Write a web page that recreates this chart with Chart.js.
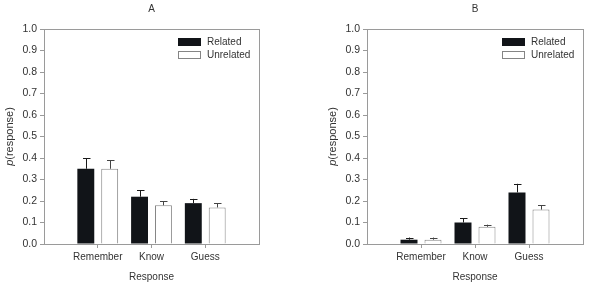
<!DOCTYPE html>
<html>
<head>
<meta charset="utf-8">
<script src="https://cdn.jsdelivr.net/npm/chart.js@4.4.0/dist/chart.umd.min.js"></script>
<style>
  html, body { margin: 0; padding: 0; background: #fff; }
  #wrap { position: relative; width: 600px; height: 285px; }
  canvas { position: absolute; top: 0; }
</style>
</head>
<body>
<div id="wrap">
  <canvas id="chartA" width="300" height="285" style="left:0"></canvas>
  <canvas id="chartB" width="300" height="285" style="left:300px"></canvas>
</div>
<script>
const categories = ['Remember', 'Know', 'Guess'];
const seriesNames = ['Related', 'Unrelated'];
const yTicks = [0, 0.1, 0.2, 0.3, 0.4, 0.5, 0.6, 0.7, 0.8, 0.9, 1.0];

// panel A
const relatedA = [0.35, 0.22, 0.19];
const unrelatedA = [0.35, 0.18, 0.17];
const relatedErrA = [0.05, 0.03, 0.02];
const unrelatedErrA = [0.04, 0.02, 0.02];

// panel B
const relatedB = [0.02, 0.10, 0.24];
const unrelatedB = [0.02, 0.08, 0.16];
const relatedErrB = [0.01, 0.02, 0.04];
const unrelatedErrB = [0.01, 0.01, 0.02];

const FONT = '"Liberation Sans", Arial, sans-serif';
const FRAME = '#9a9a9a';
const TEXT = '#333';

const decorPlugin = {
  id: 'decor',
  afterDatasetsDraw(chart, args, opts) {
    const ctx = chart.ctx;
    const area = chart.chartArea;
    const y = chart.scales.y;

    // error bars (upward only)
    chart.data.datasets.forEach((ds, i) => {
      const meta = chart.getDatasetMeta(i);
      ctx.save();
      ctx.strokeStyle = i === 0 ? '#1a1a1a' : '#444';
      ctx.lineWidth = 1;
      meta.data.forEach((bar, j) => {
        const v = ds.data[j];
        if (v == null) return;
        const top = y.getPixelForValue(v + ds.err[j]);
        const x = Math.round(bar.x) + 0.5;
        ctx.beginPath();
        ctx.moveTo(x, y.getPixelForValue(v));
        ctx.lineTo(x, top);
        ctx.moveTo(x - 3.5, Math.round(top) + 0.5);
        ctx.lineTo(x + 4, Math.round(top) + 0.5);
        ctx.stroke();
      });
      ctx.restore();
    });

    // frame
    ctx.save();
    ctx.strokeStyle = FRAME;
    ctx.lineWidth = 1;
    ctx.strokeRect(Math.round(area.left) + 0.5, Math.round(area.top) + 0.5,
      Math.round(area.right - area.left), Math.round(area.bottom - area.top));
    ctx.restore();

    // legend
    ctx.save();
    ctx.font = '10px ' + FONT;
    ctx.textBaseline = 'middle';
    chart.data.datasets.forEach((ds, i) => {
      const bx = area.right - 81;
      const by = area.top + 9 + i * 13;
      ctx.fillStyle = ds.backgroundColor;
      ctx.fillRect(bx, by, 23, 8);
      if (ds.borderWidth) {
        ctx.strokeStyle = ds.borderColor;
        ctx.strokeRect(bx + 0.5, by + 0.5, 22, 7);
      }
      ctx.fillStyle = TEXT;
      ctx.fillText(ds.label, bx + 29, by + 4.5);
    });
    ctx.restore();

    // panel title
    ctx.save();
    ctx.font = '10px ' + FONT;
    ctx.fillStyle = TEXT;
    ctx.textAlign = 'center';
    ctx.textBaseline = 'middle';
    ctx.fillText(opts.title, (area.left + area.right) / 2, 9);
    ctx.restore();

    // y title: italic p + (response)
    ctx.save();
    ctx.translate(area.left - 34, (area.top + area.bottom) / 2);
    ctx.rotate(-Math.PI / 2);
    ctx.fillStyle = TEXT;
    ctx.textBaseline = 'middle';
    ctx.font = 'italic 11px ' + FONT;
    const pW = ctx.measureText('p').width;
    ctx.font = '11px ' + FONT;
    const restW = ctx.measureText('(response)').width;
    const x0 = -(pW + restW) / 2;
    ctx.font = 'italic 11px ' + FONT;
    ctx.fillText('p', x0, 0);
    ctx.font = '11px ' + FONT;
    ctx.fillText('(response)', x0 + pW, 0);
    ctx.restore();
  }
};

function makePanel(id, title, related, unrelated, relErr, unrelErr, leftWidth, rightPad) {
  const labels = ['', ...categories, ''];
  const pad = arr => [null, ...arr, null];
  return new Chart(document.getElementById(id), {
    type: 'bar',
    data: {
      labels: labels,
      datasets: [
        {
          label: seriesNames[0],
          data: pad(related),
          err: pad(relErr),
          backgroundColor: '#111418',
          borderWidth: 0
        },
        {
          label: seriesNames[1],
          data: pad(unrelated),
          err: pad(unrelErr),
          backgroundColor: '#ffffff',
          borderColor: '#858585',
          borderWidth: 1
        }
      ]
    },
    options: {
      responsive: false,
      animation: false,
      categoryPercentage: 0.889,
      barPercentage: 0.708,
      layout: { padding: { left: 0, top: 29, right: rightPad, bottom: 0 } },
      plugins: {
        legend: { display: false },
        tooltip: { enabled: false },
        decor: { title: title }
      },
      scales: {
        x: {
          offset: false,
          grid: {
            offset: false,
            drawOnChartArea: false,
            tickLength: 4,
            color: c => (c.index === 0 || c.index === labels.length - 1) ? 'rgba(0,0,0,0)' : FRAME
          },
          border: { color: FRAME },
          ticks: {
            autoSkip: false,
            maxRotation: 0,
            padding: 3,
            color: TEXT,
            font: { family: FONT, size: 10 }
          },
          title: {
            display: true,
            text: 'Response',
            color: TEXT,
            font: { family: FONT, size: 10 },
            padding: { top: 0, bottom: 2 }
          },
          afterFit: s => { s.height = 41; }
        },
        y: {
          min: 0,
          max: 1,
          afterBuildTicks: s => { s.ticks = yTicks.map(v => ({ value: v })); },
          grid: { drawOnChartArea: false, tickLength: 4, color: FRAME },
          border: { color: FRAME },
          ticks: {
            padding: 3,
            color: TEXT,
            font: { family: FONT, size: 10.5 },
            callback: v => v.toFixed(1)
          },
          afterFit: s => { s.width = leftWidth; }
        }
      }
    },
    plugins: [decorPlugin]
  });
}

makePanel('chartA', 'A', relatedA, unrelatedA, relatedErrA, unrelatedErrA, 44, 41);
makePanel('chartB', 'B', relatedB, unrelatedB, relatedErrB, unrelatedErrB, 67, 17);
</script>
</body>
</html>
